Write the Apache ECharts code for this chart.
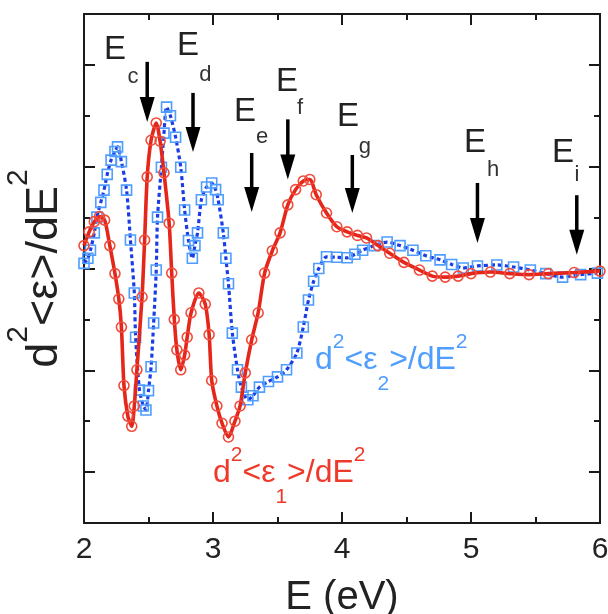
<!DOCTYPE html>
<html><head><meta charset="utf-8">
<script src="https://cdn.jsdelivr.net/npm/echarts@6/dist/echarts.min.js"></script>
<style>html,body{margin:0;padding:0;background:#fff}#c{width:608px;height:614px}</style>
</head><body><div id="c"></div>
<script>
// ---- data: d2<eps1>/dE2 (red) ----
const eps1E = [2.00,2.04,2.08,2.12,2.16,2.20,2.24,2.27,2.29,2.31,2.34,2.37,2.39,2.41,2.45,2.47,2.49,2.52,2.56,2.59,2.62,2.66,2.68,2.70,2.72,2.75,2.78,2.80,2.83,2.89,2.94,2.97,2.99,3.03,3.07,3.12,3.17,3.21,3.25,3.30,3.35,3.40,3.46,3.52,3.58,3.64,3.70,3.75,3.80,3.88,3.96,4.04,4.12,4.19,4.28,4.37,4.48,4.60,4.70,4.80,4.90,5.00,5.15,5.30,5.45,5.60,5.80,6.00];
const eps1V = [0.45,0.72,0.92,1.02,0.95,0.45,-0.10,-0.60,-1.15,-2.30,-2.90,-3.10,-2.70,-1.99,-0.56,0.56,1.80,2.52,2.86,2.50,1.88,0.89,-0.09,-1.00,-1.60,-1.99,-1.70,-1.35,-0.87,-0.48,-0.70,-1.30,-2.20,-2.70,-3.04,-3.31,-3.00,-2.70,-2.05,-1.40,-0.87,-0.09,0.35,0.70,1.25,1.55,1.72,1.75,1.45,1.09,0.82,0.72,0.65,0.60,0.45,0.30,0.12,-0.03,-0.15,-0.17,-0.15,-0.10,-0.07,-0.10,-0.12,-0.10,-0.08,-0.05];
// ---- data: d2<eps2>/dE2 (blue) ----
const eps2E = [2.00,2.03,2.05,2.08,2.10,2.13,2.155,2.18,2.21,2.24,2.26,2.29,2.33,2.36,2.39,2.40,2.43,2.46,2.48,2.50,2.52,2.54,2.56,2.57,2.60,2.62,2.64,2.67,2.71,2.75,2.78,2.81,2.84,2.86,2.88,2.91,2.95,2.99,3.02,3.04,3.08,3.10,3.12,3.15,3.19,3.22,3.27,3.31,3.36,3.43,3.50,3.57,3.65,3.70,3.74,3.78,3.82,3.88,3.96,4.04,4.10,4.16,4.25,4.35,4.45,4.55,4.65,4.76,4.85,4.94,5.05,5.20,5.33,5.46,5.58,5.71,5.85,5.98];
const eps2V = [0.10,0.20,0.36,0.70,1.01,1.30,1.54,1.85,2.13,2.30,2.39,2.10,1.54,0.56,-0.48,-1.35,-2.39,-2.70,-2.78,-2.40,-1.93,-1.07,-0.03,1.01,1.99,2.66,3.17,3.00,2.58,1.99,1.15,0.55,0.20,0.45,0.70,1.35,1.60,1.68,1.55,1.35,0.70,0.20,-0.30,-1.27,-1.99,-2.33,-2.58,-2.50,-2.33,-2.22,-2.13,-1.99,-1.66,-1.15,-0.62,-0.25,0.00,0.23,0.22,0.21,0.28,0.36,0.45,0.52,0.45,0.36,0.25,0.17,0.08,0.01,0.05,0.07,0.03,-0.03,-0.10,-0.17,-0.12,-0.09];
// ---- axis ----
const xMin = 2, xMax = 6, xStep = 1;
const yMin = -5, yMax = 5;
const yMajorTicks = [-4, -2, 0, 2, 4];
// ---- transition markers (arrows, in data units) ----
const markSub = ['c','d','e','f','g','h','i'];
const markE = [2.49, 2.845, 3.30, 3.58, 4.08, 5.05, 5.82];
const markTop = [4.06, 3.45, 2.27, 2.93, 2.23, 1.68, 1.44];
const markTip = [2.88, 2.29, 1.11, 1.75, 1.09, 0.50, 0.27];
const markLabelE = [[2.24,4.29],[2.806,4.37],[3.248,3.07],[3.574,3.66],[4.047,2.98],[5.031,2.47],[5.713,2.27]];
const markLabelSub = [[2.38,3.76],[2.94,3.80],[3.38,2.58],[3.674,3.15],[4.178,2.39],[5.171,1.94],[5.822,1.84]];
// inline curve labels (top-left anchor, data units)
const label2Pos = [3.791, -1.248];
const label1Pos = [3.0, -3.468];

const FONT = 'Liberation Sans, Arial, Helvetica, sans-serif';
const axisColor = '#1a1a1a';
const RED_LINE = '#e5261a', RED_MK = '#f04c3c';
const BLUE_LINE = '#1a3de6', BLUE_MK = '#4f9dff';

const chart = echarts.init(document.getElementById('c'), null, {renderer: 'canvas'});
const lineSt = {color: axisColor, width: 2};
const xBase = {
  type: 'value', min: xMin, max: xMax, interval: xStep,
  axisLine: {show: true, onZero: false, lineStyle: lineSt},
  axisTick: {show: true, inside: true, length: 11, lineStyle: lineSt},
  minorTick: {show: true, splitNumber: 2, length: 6, lineStyle: lineSt},
  splitLine: {show: false}, minorSplitLine: {show: false}
};
const yBase = {
  type: 'value', min: yMin, max: yMax, interval: 1,
  axisLine: {show: true, onZero: false, lineStyle: lineSt},
  axisLabel: {show: false},
  splitLine: {show: false}
};
const shortTick = {show: true, inside: true, length: 6, lineStyle: lineSt};
const longTick = {show: true, inside: true, length: 11, customValues: yMajorTicks, lineStyle: lineSt};

chart.setOption({
  animation: false,
  backgroundColor: '#fff',
  grid: {left: 84, right: 8, top: 14, bottom: 91, containLabel: false, outerBoundsMode: 'none'},
  xAxis: [
    Object.assign({}, xBase, {
      position: 'bottom',
      axisLabel: {show: true, margin: 12, fontSize: 30, color: '#222', fontFamily: FONT},
      name: 'E (eV)', nameLocation: 'middle', nameGap: 55,
      nameTextStyle: {fontSize: 40, color: '#222', fontFamily: FONT}
    }),
    Object.assign({}, xBase, {position: 'top', axisLabel: {show: false}})
  ],
  yAxis: [
    Object.assign({}, yBase, {
      position: 'left', axisTick: shortTick,
      name: '{m|d}{p|2}{m|<ε>/dE}{p|2}', nameLocation: 'middle', nameRotate: 90, nameGap: 35,
      nameTextStyle: {
        color: '#222', fontFamily: FONT,
        rich: {
          m: {fontSize: 45, lineHeight: 45, padding: [18, 0, 0, 0], verticalAlign: 'top', color: '#222', fontFamily: FONT},
          p: {fontSize: 30, lineHeight: 30, verticalAlign: 'top', color: '#222', fontFamily: FONT}
        }
      }
    }),
    Object.assign({}, yBase, {position: 'left', axisTick: longTick}),
    Object.assign({}, yBase, {position: 'right', axisTick: shortTick}),
    Object.assign({}, yBase, {position: 'right', axisTick: longTick})
  ],
  series: [
    {
      type: 'line', name: 'eps2', xAxisIndex: 0, yAxisIndex: 0,
      data: eps2E.map((e, i) => [e, eps2V[i]]),
      smooth: 0.25,
      symbol: 'rect', symbolSize: 10,
      itemStyle: {color: 'rgba(0,0,0,0)', borderColor: BLUE_MK, borderWidth: 1.6},
      lineStyle: {color: BLUE_LINE, width: 3.2, type: [4, 3]},
      z: 2
    },
    {
      type: 'line', name: 'eps1', xAxisIndex: 0, yAxisIndex: 0,
      data: eps1E.map((e, i) => [e, eps1V[i]]),
      smooth: 0.25,
      symbol: 'circle', symbolSize: 10,
      itemStyle: {color: 'rgba(0,0,0,0)', borderColor: RED_MK, borderWidth: 1.6},
      lineStyle: {color: RED_LINE, width: 3.6},
      z: 3
    }
  ]
});

const px = (e, v) => chart.convertToPixel({seriesIndex: 0}, [e, v]);
const g = [];
for (let i = 0; i < markE.length; i++) {
  const top = px(markE[i], markTop[i]);
  const tip = px(markE[i], markTip[i]);
  const x = top[0];
  g.push({type: 'line', shape: {x1: x, y1: top[1], x2: x, y2: tip[1] - 20}, style: {stroke: '#000', lineWidth: 3.5}, z: 10});
  g.push({type: 'polygon', shape: {points: [[x - 7.5, tip[1] - 25], [x + 7.5, tip[1] - 25], [x, tip[1]]]}, style: {fill: '#000'}, z: 10});
  const le = px(markLabelE[i][0], markLabelE[i][1]);
  g.push({type: 'text', x: le[0], y: le[1], style: {text: 'E', fontSize: 33, fontFamily: FONT, fill: '#222', align: 'center', verticalAlign: 'middle'}, z: 10});
  const ls = px(markLabelSub[i][0], markLabelSub[i][1]);
  g.push({type: 'text', x: ls[0], y: ls[1], style: {text: markSub[i], fontSize: 22, fontFamily: FONT, fill: '#333', align: 'center', verticalAlign: 'middle'}, z: 10});
}
function curveLabel(pos, sub, color) {
  const p = px(pos[0], pos[1]);
  return {
    type: 'text', x: p[0], y: p[1], z: 10,
    style: {
      text: '{m|d}{p|2}{m|<ε}{b|' + sub + '}{m|>/dE}{p|2}',
      align: 'left', verticalAlign: 'top', fill: color, fontFamily: FONT,
      rich: {
        m: {fontSize: 32, lineHeight: 32, padding: [12, 0, 0, 0], verticalAlign: 'top', fill: color, fontFamily: FONT},
        p: {fontSize: 21, lineHeight: 21, verticalAlign: 'top', fill: color, fontFamily: FONT},
        b: {fontSize: 21, lineHeight: 21, padding: [42, 0, 0, 0], verticalAlign: 'top', fill: color, fontFamily: FONT}
      }
    }
  };
}
g.push(curveLabel(label2Pos, '2', BLUE_MK));
g.push(curveLabel(label1Pos, '1', '#ee3a2a'));
chart.setOption({graphic: g});
</script>
</body></html>
